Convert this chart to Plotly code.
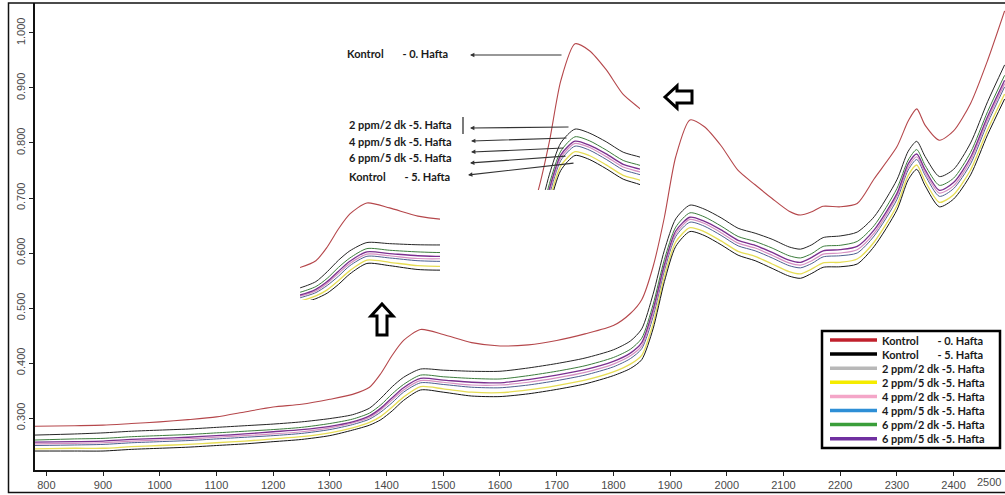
import plotly.graph_objects as go

# ---------------- data ----------------
wavelength = [780, 850, 900, 950, 1000, 1050, 1100, 1150, 1200, 1250, 1300, 1340, 1370, 1390, 1410,
              1430, 1460, 1500, 1550, 1600, 1650, 1700, 1750, 1800, 1830, 1850, 1870, 1890, 1910, 1935,
              1960, 1990, 2020, 2050, 2080, 2110, 2130, 2150, 2170, 2200, 2230, 2260, 2300, 2320, 2335,
              2350, 2375, 2400, 2430, 2460, 2490]

kontrol_0 = [0.285, 0.286, 0.287, 0.290, 0.293, 0.297, 0.302, 0.311, 0.320, 0.325, 0.334, 0.343, 0.356, 0.381, 0.414,
             0.441, 0.461, 0.452, 0.437, 0.431, 0.433, 0.441, 0.453, 0.468, 0.490, 0.515, 0.575, 0.665, 0.775, 0.842,
             0.830, 0.795, 0.750, 0.724, 0.699, 0.676, 0.669, 0.675, 0.685, 0.684, 0.690, 0.735, 0.793, 0.840, 0.862,
             0.832, 0.805, 0.822, 0.872, 0.950, 1.040]

kontrol_5 = [0.240, 0.240, 0.240, 0.243, 0.245, 0.247, 0.250, 0.253, 0.257, 0.261, 0.268, 0.278, 0.287, 0.297, 0.313,
             0.332, 0.351, 0.347, 0.340, 0.339, 0.344, 0.352, 0.362, 0.377, 0.390, 0.406, 0.462, 0.548, 0.612, 0.639,
             0.632, 0.615, 0.596, 0.586, 0.572, 0.558, 0.554, 0.563, 0.574, 0.575, 0.580, 0.612, 0.678, 0.733, 0.752,
             0.722, 0.684, 0.698, 0.742, 0.815, 0.880]

ppm2_dk2 = [0.269, 0.271, 0.273, 0.276, 0.278, 0.280, 0.283, 0.286, 0.289, 0.293, 0.299, 0.306, 0.318, 0.336, 0.357,
            0.374, 0.389, 0.387, 0.385, 0.385, 0.391, 0.399, 0.409, 0.424, 0.440, 0.462, 0.525, 0.605, 0.662, 0.687,
            0.680, 0.664, 0.645, 0.636, 0.625, 0.611, 0.607, 0.615, 0.628, 0.631, 0.638, 0.666, 0.733, 0.785, 0.803,
            0.775, 0.739, 0.752, 0.800, 0.875, 0.942]

ppm6_dk2 = [0.260, 0.262, 0.263, 0.266, 0.268, 0.270, 0.273, 0.276, 0.279, 0.283, 0.290, 0.298, 0.309, 0.324, 0.344,
            0.361, 0.378, 0.375, 0.372, 0.371, 0.377, 0.385, 0.395, 0.410, 0.425, 0.445, 0.506, 0.588, 0.647, 0.673,
            0.666, 0.649, 0.630, 0.621, 0.609, 0.595, 0.591, 0.599, 0.612, 0.614, 0.621, 0.650, 0.717, 0.769, 0.788,
            0.759, 0.723, 0.736, 0.783, 0.857, 0.923]

ppm6_dk5 = [0.256, 0.257, 0.258, 0.261, 0.263, 0.265, 0.268, 0.271, 0.275, 0.279, 0.285, 0.293, 0.304, 0.318, 0.337,
            0.355, 0.372, 0.369, 0.365, 0.364, 0.370, 0.378, 0.388, 0.403, 0.418, 0.437, 0.497, 0.579, 0.640, 0.665,
            0.658, 0.642, 0.623, 0.614, 0.601, 0.587, 0.583, 0.592, 0.604, 0.606, 0.612, 0.642, 0.708, 0.762, 0.780,
            0.751, 0.714, 0.728, 0.774, 0.848, 0.914]

ppm4_dk2 = [0.253, 0.254, 0.255, 0.258, 0.260, 0.262, 0.265, 0.268, 0.271, 0.275, 0.282, 0.291, 0.301, 0.315, 0.333,
            0.351, 0.368, 0.365, 0.360, 0.360, 0.365, 0.373, 0.383, 0.398, 0.413, 0.431, 0.490, 0.574, 0.635, 0.661,
            0.654, 0.637, 0.618, 0.609, 0.596, 0.582, 0.578, 0.586, 0.598, 0.600, 0.606, 0.636, 0.703, 0.756, 0.775,
            0.746, 0.709, 0.722, 0.768, 0.842, 0.908]

ppm4_dk5 = [0.250, 0.251, 0.252, 0.255, 0.257, 0.259, 0.262, 0.265, 0.268, 0.272, 0.279, 0.288, 0.298, 0.311, 0.328,
            0.347, 0.364, 0.361, 0.356, 0.355, 0.360, 0.368, 0.378, 0.393, 0.408, 0.426, 0.484, 0.568, 0.630, 0.656,
            0.649, 0.632, 0.613, 0.604, 0.591, 0.577, 0.573, 0.581, 0.593, 0.595, 0.600, 0.631, 0.697, 0.751, 0.770,
            0.741, 0.703, 0.717, 0.762, 0.836, 0.902]

ppm2_dk5 = [0.244, 0.245, 0.245, 0.248, 0.250, 0.252, 0.255, 0.258, 0.262, 0.266, 0.273, 0.282, 0.292, 0.303, 0.320,
            0.338, 0.357, 0.353, 0.347, 0.346, 0.351, 0.359, 0.369, 0.384, 0.398, 0.414, 0.471, 0.557, 0.620, 0.646,
            0.639, 0.622, 0.603, 0.594, 0.580, 0.566, 0.562, 0.571, 0.582, 0.583, 0.589, 0.620, 0.686, 0.741, 0.760,
            0.730, 0.692, 0.706, 0.751, 0.824, 0.889]

legend_labels = ["Kontrol\u00a0\u00a0\u00a0\u00a0\u00a0\u00a0\u00a0- 0. Hafta",
                 "Kontrol\u00a0\u00a0\u00a0\u00a0\u00a0\u00a0\u00a0- 5. Hafta",
                 "2 ppm/2 dk -5. Hafta", "2 ppm/5 dk -5. Hafta",
                 "4 ppm/2 dk -5. Hafta", "4 ppm/5 dk -5. Hafta",
                 "6 ppm/2 dk -5. Hafta", "6 ppm/5 dk -5. Hafta"]
legend_colors = ["#c0202c", "#000000", "#b8b8b8", "#f5ec00", "#f4a6c8", "#2e8fd6", "#3a9e3a", "#7030a0"]

x_ticks = list(range(800, 2401, 100))
y_ticks = [0.3, 0.4, 0.5, 0.6, 0.7, 0.8, 0.9, 1.0]

# series in drawing order (name, values, drawn colour, width)
series = [
    ("2 ppm/5 dk -5. Hafta", ppm2_dk5, "#e6dd55", 1.3),
    ("4 ppm/5 dk -5. Hafta", ppm4_dk5, "#4d5f8f", 1.0),
    ("4 ppm/2 dk -5. Hafta", ppm4_dk2, "#d690c2", 1.2),
    ("6 ppm/5 dk -5. Hafta", ppm6_dk5, "#7b2f8f", 1.3),
    ("6 ppm/2 dk -5. Hafta", ppm6_dk2, "#3d7d3d", 1.0),
    ("Kontrol - 5. Hafta", kontrol_5, "#151515", 1.0),
    ("2 ppm/2 dk -5. Hafta", ppm2_dk2, "#262626", 1.0),
    ("Kontrol - 0. Hafta", kontrol_0, "#b5474b", 1.1),
]

# ---------------- layout geometry ----------------
W, H = 1005, 495
ML, MR, MT, MB = 35, 0, 3, 25
PW, PH = W - ML - MR, H - MT - MB


def px2x(px):
    return (px - ML) / PW


def py2y(py):
    return (H - MB - py) / PH


fig = go.Figure()

axes_sets = [("x", "y"), ("x2", "y2"), ("x3", "y3")]
for xa, ya in axes_sets:
    for name, vals, col, w in series:
        fig.add_trace(go.Scatter(x=wavelength, y=vals, mode="lines", name=name,
                                 line=dict(color=col, width=w, shape="spline", smoothing=0.7),
                                 xaxis=xa, yaxis=ya, showlegend=False, hoverinfo="skip"))

tick_font = dict(family="Liberation Sans, Arial, sans-serif", size=11, color="#4a4a4a")
label_font = dict(family="Lato, Open Sans, sans-serif", size=11, color="#1a1a1a")

shapes = []
annotations = []

# outer frame
shapes.append(dict(type="rect", xref="paper", yref="paper", x0=px2x(8.5), x1=px2x(1012),
                   y0=py2y(492.5), y1=py2y(3), line=dict(color="#111", width=1.5)))

# legend box
shapes.append(dict(type="rect", xref="paper", yref="paper", x0=px2x(822), x1=px2x(1000),
                   y0=py2y(448), y1=py2y(331), line=dict(color="#000", width=2.5),
                   fillcolor="white"))
for i, (lab, col) in enumerate(zip(legend_labels, legend_colors)):
    yy = 340 + 14.1 * i
    shapes.append(dict(type="line", xref="paper", yref="paper", x0=px2x(830), x1=px2x(877),
                       y0=py2y(yy), y1=py2y(yy), line=dict(color=col, width=3.5)))
    annotations.append(dict(text="<b>" + lab + "</b>", xref="paper", yref="paper",
                            x=px2x(880), y=py2y(yy), xanchor="left", yanchor="middle",
                            showarrow=False, font=label_font))

# inset labels
inset_labels = [
    ("Kontrol\u00a0\u00a0\u00a0\u00a0\u00a0\u00a0\u00a0- 0. Hafta", 345, 53),
    ("2 ppm/2 dk -5. Hafta", 347, 125),
    ("4 ppm/5 dk -5. Hafta", 347, 141),
    ("6 ppm/5 dk -5. Hafta", 347, 157),
    ("Kontrol\u00a0\u00a0\u00a0\u00a0\u00a0\u00a0\u00a0- 5. Hafta", 347, 176),
]
for txt, px, py in inset_labels:
    annotations.append(dict(text="<b>" + txt + "</b>", xref="paper", yref="paper",
                            x=px2x(px), y=py2y(py), xanchor="left", yanchor="middle",
                            showarrow=False, font=label_font))

# pointer arrows (head, tail) in pixels
pointers = [((470, 55), (563, 55)), ((470, 128), (570, 127)), ((471, 141), (568, 138)),
            ((471, 152), (565, 148)), ((470, 163), (567, 156)), ((468, 175), (575, 163))]
for (hx, hy), (tx, ty) in pointers:
    annotations.append(dict(text="", xref="paper", yref="paper", x=px2x(hx), y=py2y(hy),
                            ax=tx - hx, ay=ty - hy, showarrow=True, arrowhead=2,
                            arrowsize=0.8, arrowwidth=1.1, arrowcolor="#333"))

# small vertical bar next to first label
shapes.append(dict(type="line", xref="paper", yref="paper", x0=px2x(463), x1=px2x(463),
                   y0=py2y(134), y1=py2y(117), line=dict(color="#222", width=1.2)))


def path_from_px(pts):
    s = "M " + " L ".join(f"{px2x(a):.5f} {py2y(b):.5f}" for a, b in pts) + " Z"
    return s


left_arrow = [(665, 97), (677, 86), (677, 91), (692, 91), (692, 103), (677, 103), (677, 108)]
up_arrow = [(382, 304), (393, 316), (387, 316), (387, 335), (377, 335), (377, 316), (371, 316)]
for pts in (left_arrow, up_arrow):
    shapes.append(dict(type="path", xref="paper", yref="paper", path=path_from_px(pts),
                       line=dict(color="#000", width=3), fillcolor="white"))

# last x label at the right edge (tick itself lies just outside the visible range)
annotations.append(dict(text="2500", xref="paper", yref="paper", x=px2x(1003), y=py2y(482),
                        xanchor="right", yanchor="middle", showarrow=False, font=tick_font))

# main-axis scale (pixels per unit) for insets
x_scale = PW / (2490.7 - 780)
y_scale = PH / (1.0545 - 0.2055)

fig.update_layout(
    width=W, height=H,
    margin=dict(l=ML, r=MR, t=MT, b=MB, pad=0),
    paper_bgcolor="white", plot_bgcolor="white",
    showlegend=False,
    xaxis=dict(range=[780, 2490.7], tickvals=x_ticks, ticks="outside", ticklen=4, tickwidth=1,
               tickcolor="#222", showgrid=False, zeroline=False, showline=True, linecolor="#111",
               linewidth=2, tickfont=tick_font),
    yaxis=dict(range=[0.2055, 1.0545], tickvals=y_ticks, tickformat=".3f", tickangle=-90,
               ticks="outside", ticklen=4, tickwidth=1, tickcolor="#222", showgrid=False,
               zeroline=False, showline=True, linecolor="#111", linewidth=2, tickfont=tick_font),
    xaxis2=dict(domain=[px2x(300), px2x(440)], range=[1342, 1342 + 140 / x_scale], visible=False,
                anchor="y2"),
    yaxis2=dict(domain=[py2y(300), py2y(198)], range=[0.470 - 102 / y_scale, 0.470], visible=False,
                anchor="x2"),
    xaxis3=dict(domain=[px2x(537), px2x(640)], range=[1868, 1868 + 103 / x_scale], visible=False,
                anchor="y3"),
    yaxis3=dict(domain=[py2y(190), py2y(40)], range=[0.849 - 150 / y_scale, 0.849], visible=False,
                anchor="x3"),
    shapes=shapes,
    annotations=annotations,
)

fig.write_html("out.html")
